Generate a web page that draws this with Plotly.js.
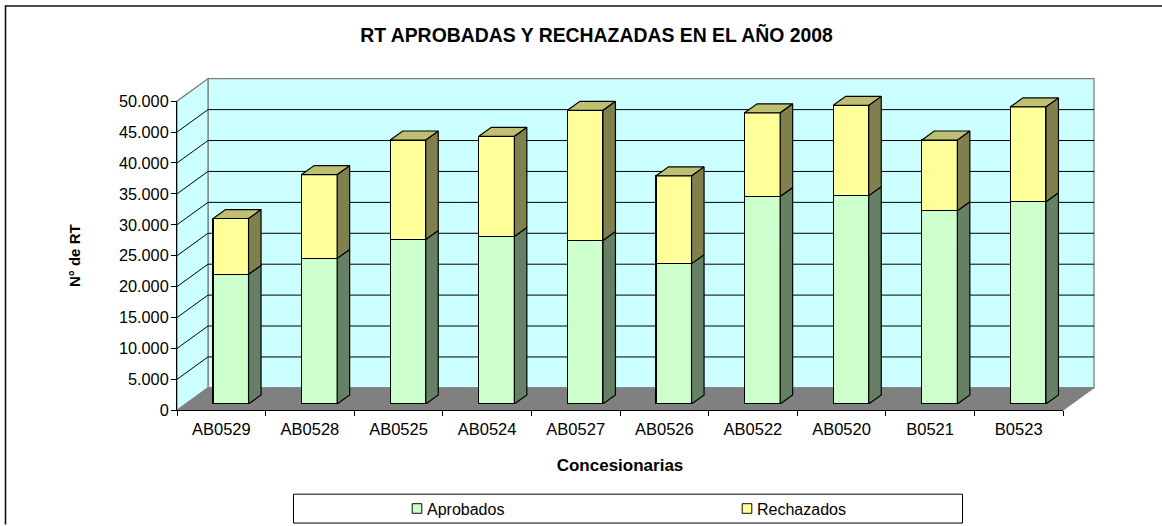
<!DOCTYPE html>
<html>
<head>
<meta charset="utf-8">
<script src="https://cdn.plot.ly/plotly-3.0.1.min.js"></script>
<style>html,body{margin:0;padding:0;background:#fff;overflow:hidden}</style>
</head>
<body>
<div id="chart" style="width:1162px;height:526px"></div>
<script>
const categories = ["AB0529","AB0528","AB0525","AB0524","AB0527","AB0526","AB0522","AB0520","B0521","B0523"];
const aprobados = [20970,23550,26600,27100,26450,22700,33550,33700,31250,32700];
const rechazados = [9030,13550,16100,16200,21050,14200,13550,14600,11450,15360];
const yTicks = [0,5000,10000,15000,20000,25000,30000,35000,40000,45000,50000];

const W = 1162, H = 526;
const FONT = '"Liberation Sans", Arial, sans-serif';
const L = 177, R = 1063, B = 411.3, T = 101; // front plane
const WALL_DX = 31, WALL_DY = 22.5;          // depth of the box
const BAR_DX = 9.5, BAR_DY = 6.3;            // bars sit a little inside the box
const DEPTH_DX = 12.5, DEPTH_DY = 9;         // depth of each bar
const BAR_W = 35.5;
const catW = (R - L) / categories.length;
const perVal = (B - T) / 50000;
const px = v => v / W, py = v => 1 - (1.002 * v + 0.5) / H;
const poly = pts => 'M' + pts.map(p => px(p[0]) + ',' + py(p[1])).join('L') + 'Z';
const GRAY = '#808080';

const shapes = [];
const addPoly = (pts, fill, line, width) => shapes.push({type:'path', xref:'paper', yref:'paper', layer:'below', path:poly(pts), fillcolor:fill, line:{color:line, width:width}});
const addLine = (a, b, color, width) => shapes.push({type:'line', xref:'paper', yref:'paper', layer:'below', x0:px(a[0]), y0:py(a[1]), x1:px(b[0]), y1:py(b[1]), line:{color:color, width:width}});

// frame (top and left edges)
addLine([5,5.5],[1162,5.5],'#111',1.6);
addLine([5.5,5],[5.5,526],'#111',1.6);
// walls and floor
addPoly([[L+WALL_DX,T-WALL_DY],[R+WALL_DX,T-WALL_DY],[R+WALL_DX,B-WALL_DY],[L+WALL_DX,B-WALL_DY]],'#CCFFFF',GRAY,1.3);
addPoly([[L,T],[L+WALL_DX,T-WALL_DY],[L+WALL_DX,B-WALL_DY],[L,B]],'#CCFFFF',GRAY,1.3);
addPoly([[L,B],[L+WALL_DX,B-WALL_DY],[R+WALL_DX,B-WALL_DY],[R,B]],GRAY,GRAY,1);
yTicks.forEach(v => {
  if (v === 0 || v === 50000) return;
  const y = B - v * perVal;
  addLine([L,y],[L+WALL_DX,y-WALL_DY],'#000',1);
  addLine([L+WALL_DX,y-WALL_DY],[R+WALL_DX,y-WALL_DY],'#000',1);
});
// legend box
addPoly([[293.5,495.5],[962.5,495.5],[962.5,524.5],[293.5,524.5]],'#fff','#000',1);

// side and top faces computed from the data, in bar-subplot units
const dxU = DEPTH_DX / catW, dyU = DEPTH_DY / perVal, hw = (BAR_W / catW) / 2;
function sideFace(low, high) {
  const xs = [], ys = [];
  low.forEach((lo, i) => {
    const hi = high[i], xr = i + hw;
    xs.push(xr, xr + dxU, xr + dxU, xr, xr, null);
    ys.push(lo, lo + dyU, hi + dyU, hi, lo, null);
  });
  return {x:xs, y:ys};
}
function topFace(high) {
  const xs = [], ys = [];
  high.forEach((hi, i) => {
    xs.push(i - hw, i - hw + dxU, i + hw + dxU, i + hw, i - hw, null);
    ys.push(hi, hi + dyU, hi + dyU, hi, hi, null);
  });
  return {x:xs, y:ys};
}
const totals = aprobados.map((a, i) => a + rechazados[i]);
const zeros = aprobados.map(() => 0);
const idx = categories.map((_, i) => i);
const edge = {color:'#000', width:1.2};
const faceTrace = (g, color) => ({type:'scatter', mode:'lines', x:g.x, y:g.y, xaxis:'x2', yaxis:'y2', fill:'toself', fillcolor:color, line:edge, hoverinfo:'skip', showlegend:false});
const barTrace = (name, vals, color) => ({type:'bar', name:name, x:idx, y:vals, customdata:categories, xaxis:'x2', yaxis:'y2', width:BAR_W/catW, marker:{color:color, line:edge}, hovertemplate:'%{customdata}: %{y}<extra>'+name+'</extra>'});

const data = [
  {type:'scatter', mode:'none', x:categories, y:zeros, xaxis:'x', yaxis:'y', hoverinfo:'skip', showlegend:false},
  barTrace('Aprobados', aprobados, '#CCFFCC'),
  barTrace('Rechazados', rechazados, '#FFFF99'),
  faceTrace(sideFace(zeros, aprobados), '#668066'),
  faceTrace(sideFace(aprobados, totals), '#80804D'),
  faceTrace(topFace(totals), '#BFBF73')
];

const layout = {
  width:W, height:H,
  margin:{l:0,r:0,t:0,b:0},
  paper_bgcolor:'#fff', plot_bgcolor:'rgba(0,0,0,0)',
  separators:',.',
  barmode:'stack',
  font:{family:FONT, size:16, color:'#000'},
  title:{text:'<b>RT APROBADAS Y RECHAZADAS EN EL AÑO 2008</b>', font:{family:FONT, size:19.4, color:'#000'}, x:596.5/W, xanchor:'center', xref:'paper', y:py(34.5), yanchor:'middle', yref:'paper'},
  xaxis:{type:'category', categoryorder:'array', categoryarray:categories, domain:[px(L),px(R)], range:[-0.5,9.5], anchor:'y', tickson:'boundaries', ticks:'outside', ticklen:5, tickcolor:'#000', tickwidth:1, showline:true, linecolor:'#000', linewidth:1, showgrid:false, zeroline:false, tickangle:0, ticklabelstandoff:4, tickfont:{size:16.5}, title:{text:'<b>Concesionarias</b>', font:{size:17}, standoff:22}, fixedrange:true},
  yaxis:{domain:[py(B),py(T)], range:[0,50000], anchor:'x', tickmode:'array', tickvals:yTicks, ticktext:yTicks.map(v => v === 0 ? '0' : (v/1000) + '.000'), ticks:'outside', ticklen:5, tickcolor:'#000', tickwidth:1, showline:true, linecolor:'#000', linewidth:1, showgrid:false, zeroline:false, ticklabelstandoff:-1, tickfont:{size:16.3}, title:{text:'<b>N° de RT</b>', font:{size:15}, standoff:34}, fixedrange:true},
  xaxis2:{domain:[px(L+BAR_DX),px(R+BAR_DX)], range:[-0.5,9.5], anchor:'y2', visible:false, fixedrange:true},
  yaxis2:{domain:[py(B-BAR_DY),py(T-BAR_DY)], range:[0,50000], anchor:'x2', visible:false, fixedrange:true},
  legend:{orientation:'h', x:px(387), xanchor:'left', y:py(510), yanchor:'middle', bgcolor:'rgba(0,0,0,0)', borderwidth:0, traceorder:'normal', entrywidth:285, entrywidthmode:'pixels', font:{size:16}},
  shapes:shapes,
  showlegend:true
};

Plotly.newPlot('chart', data, layout, {displayModeBar:false, responsive:false}).then(() => {
  document.querySelectorAll('.legendpoints').forEach(g => g.setAttribute('transform','translate(14,0) scale(0.8)'));
});
</script>
</body>
</html>
